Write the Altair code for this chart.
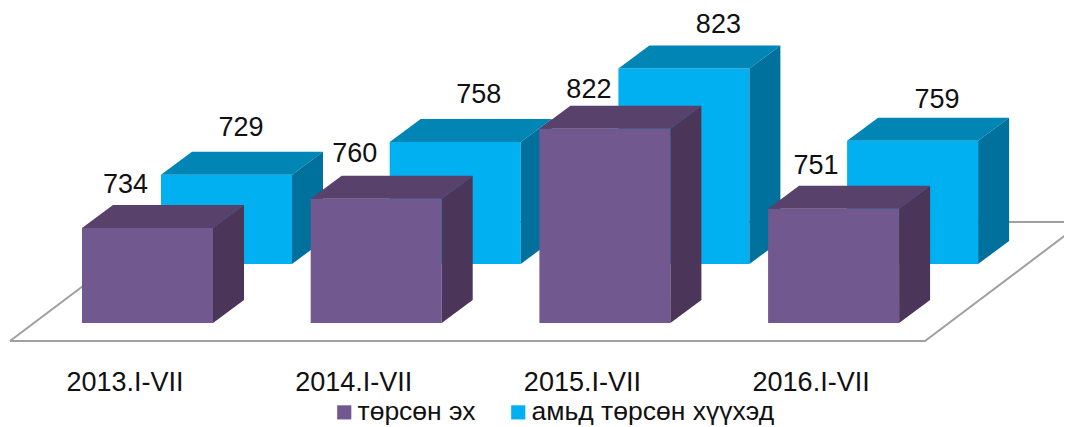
import altair as alt
import pandas as pd

categories = ["2013.I-VII", "2014.I-VII", "2015.I-VII", "2016.I-VII"]
series_names = ["төрсөн эх", "амьд төрсөн хүүхэд"]
mothers = [734, 760, 822, 751]
births = [729, 758, 823, 759]

# colours: front, top, side
palette = {
    series_names[0]: ("#71588f", "#58426b", "#4b3659"),
    series_names[1]: ("#00b0f0", "#0085b5", "#00719c"),
}

# layout of the pseudo-3D projection (pixels)
W, H = 1056, 419
PX_X = 228.7      # pixels per category step
PX_Y = 1.13       # pixels per value unit
X0_PX = 82 - 8    # left edge of the first front bar inside the plot
BASE_PX = 323 - 8 # bar foot inside the plot
BASE_VAL = 650
BAR_W = 131 / PX_X
DEPTH_X = 31 / PX_X
DEPTH_Y = 23 / PX_Y
BACK_X = 79 / PX_X
BACK_Y = 59 / PX_Y

x_domain = [-X0_PX / PX_X, (W - X0_PX) / PX_X]
y_domain = [BASE_VAL - (H - BASE_PX) / PX_Y, BASE_VAL + BASE_PX / PX_Y]

# value label nudges (px): centre from front-left corner, rise above the back edge
label_dx = {series_names[0]: [43.5, 44, 49.5, 48], series_names[1]: [80, 89, 100, 90]}
label_rise = {series_names[0]: [12, 14, 8, 12], series_names[1]: [16, 16, 13, 10]}

front, top, side, labels = [], [], [], []
for s, (name, vals) in enumerate(zip(series_names, [mothers, births])):
    for i, v in enumerate(vals):
        x = i + s * BACK_X
        x1 = x + BAR_W
        lo = BASE_VAL + s * BACK_Y
        hi = v + s * BACK_Y
        gid = f"{s}-{i}"
        front.append(dict(series=name, x=x, x2=x1, y=lo, y2=hi))
        for px, a, b in [
            (x, hi, hi),
            (x + DEPTH_X, hi, hi + DEPTH_Y),
            (x1, hi, hi + DEPTH_Y),
            (x1 + DEPTH_X, hi + DEPTH_Y, hi + DEPTH_Y),
        ]:
            top.append(dict(g=gid, series=name, x=px, y=a, y2=b))
        for px, a, b in [(x1, lo, hi), (x1 + DEPTH_X, lo + DEPTH_Y, hi + DEPTH_Y)]:
            side.append(dict(g=gid, series=name, x=px, y=a, y2=b))
        labels.append(dict(
            text=str(v),
            x=x + label_dx[name][i] / PX_X,
            y=hi + DEPTH_Y + label_rise[name][i] / PX_Y,
        ))

cat_df = pd.DataFrame({
    "text": categories,
    "x": [i + 43 / PX_X for i in range(len(categories))],
    "y": BASE_VAL - (391 - 323) / PX_Y,
})

# floor outline
fl = lambda px, py: (((px - 8) - X0_PX) / PX_X, BASE_VAL - (py - 323) / PX_Y)
floor = pd.DataFrame(
    [dict(o=k, x=fl(a, b)[0], y=fl(a, b)[1]) for k, (a, b) in enumerate(
        [(10, 341), (925, 341), (1083, 222), (168, 222), (10, 341)])]
)

X = lambda f="x": alt.X(f"{f}:Q", scale=alt.Scale(domain=x_domain, nice=False, zero=False), axis=None)
Y = alt.Y("y:Q", scale=alt.Scale(domain=y_domain, nice=False, zero=False), axis=None)

floor_layer = alt.Chart(floor).mark_line(color="#a0a0a0", strokeWidth=2, clip=True).encode(
    x=X(), y=Y, order="o:Q")


def faces(name):
    colors = palette[name]
    f = pd.DataFrame([d for d in front if d["series"] == name])
    t = pd.DataFrame([d for d in top if d["series"] == name])
    sd = pd.DataFrame([d for d in side if d["series"] == name])
    return [
        alt.Chart(f).mark_rect().encode(
            x=X(), x2="x2:Q", y=Y, y2="y2:Q",
            color=alt.Color("series:N",
                            scale=alt.Scale(domain=series_names,
                                            range=[palette[n][0] for n in series_names]),
                            legend=alt.Legend(
                                title=None, orient="none", direction="horizontal",
                                legendX=323, legendY=391, symbolType="square",
                                symbolSize=200, symbolStrokeWidth=0, symbolOpacity=1,
                                labelFont="Liberation Sans", labelFontSize=26.5,
                                labelColor="#111111", labelOffset=0, labelLimit=400,
                                columnPadding=29, padding=0,
                            )),
        ),
        alt.Chart(t).mark_area(color=colors[1], interpolate="linear").encode(
            x=X(), y=Y, y2="y2:Q", detail="g:N"),
        alt.Chart(sd).mark_area(color=colors[2], interpolate="linear").encode(
            x=X(), y=Y, y2="y2:Q", detail="g:N"),
    ]


text_style = dict(font="Liberation Sans", fontSize=27, color="#111111", align="center",
                  baseline="alphabetic")
value_layer = alt.Chart(pd.DataFrame(labels)).mark_text(**text_style).encode(x=X(), y=Y, text="text:N")
cat_layer = alt.Chart(cat_df).mark_text(**text_style).encode(x=X(), y=Y, text="text:N")

chart = alt.layer(
    floor_layer,
    *faces(series_names[1]),
    *faces(series_names[0]),
    value_layer,
    cat_layer,
).properties(
    width=W, height=H, padding=0, autosize=alt.AutoSizeParams(type="none"),
).configure_view(stroke=None)

chart.save("out.html", embed_options={"renderer": "svg", "actions": False})
